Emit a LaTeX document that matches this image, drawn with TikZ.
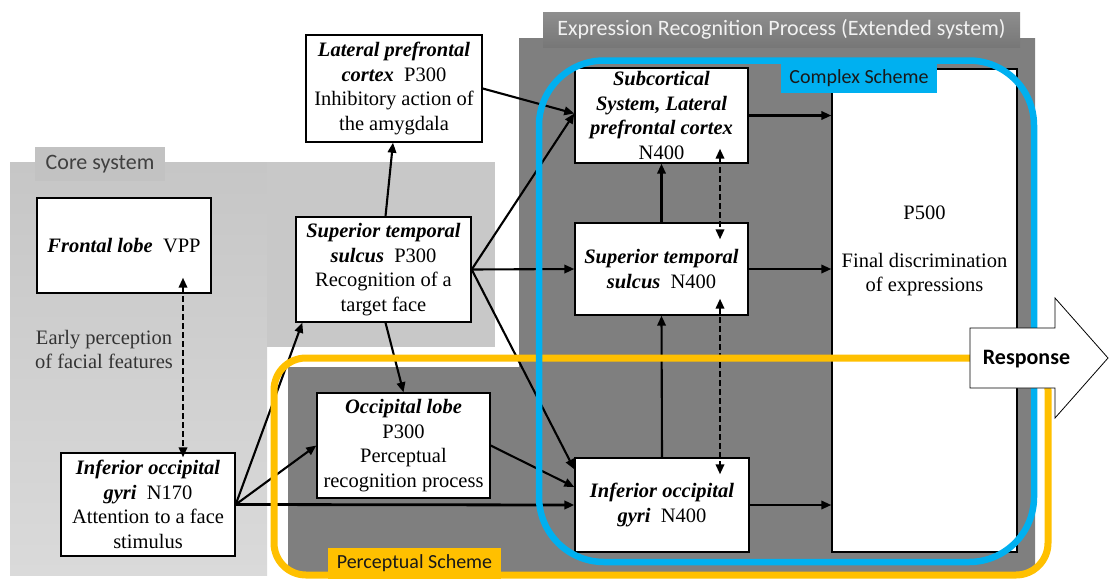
\documentclass[tikz,border=0pt]{standalone}
\usepackage{fontspec}
\setmainfont{Liberation Serif}
\newfontfamily\calib{Carlito}
\usetikzlibrary{arrows.meta,calc}
\definecolor{darkg}{HTML}{7F7F7F}
\definecolor{tabtop}{HTML}{8E8E8E}
\definecolor{tabbot}{HTML}{777777}
\definecolor{lgtop}{HTML}{C6C6C6}
\definecolor{lgbot}{HTML}{DADADA}
\definecolor{lgright}{HTML}{C8C8C8}
\definecolor{coretabc}{HTML}{C2C2C2}
\definecolor{cblue}{HTML}{00B0F0}
\definecolor{cyel}{HTML}{FFC000}
\newcommand{\bfit}[1]{\textbf{\textit{#1}}}
\begin{document}
\begin{tikzpicture}[x=1pt,y=-1pt,
  box/.style={draw=black, line width=1.4pt, fill=white, inner sep=0pt, align=center,
    font=\fontsize{20.5}{24.5}\selectfont},
  txt/.style={inner sep=0pt, align=center, font=\fontsize{20.5}{24.5}\selectfont},
  arr/.style={line width=2.1pt, -{Triangle[length=10pt,width=8.5pt]}},
  darr/.style={line width=2.1pt, dash pattern=on 6pt off 3pt,
    {Triangle[length=10pt,width=8.5pt]}-{Triangle[length=10pt,width=8.5pt]}},
  tabstyle/.style={inner sep=0pt, font=\calib\fontsize{22}{26}\selectfont},
  schemelab/.style={inner sep=0pt, font=\calib\fontsize{20}{24}\selectfont, text=black!90}
]
\useasboundingbox (0,0) rectangle (1110,581);
% ---------- background regions ----------
\shade[top color=lgtop, bottom color=lgbot] (10,162) rectangle (267,575);
\fill[lgright] (267,162) rectangle (495,347);
\fill[darkg] (519,38) -- (1035,38) -- (1035,573) -- (288,573) -- (288,367) -- (519,367) -- cycle;
\node[tabstyle, top color=tabtop, bottom color=tabbot, minimum width=477pt, minimum height=35pt,
  text=white!95!black] (exptab) at (781.5,29.5) {Expression Recognition Process (Extended system)};
\node[tabstyle, fill=coretabc, minimum width=130pt, minimum height=34pt, text=black!75]
  (coretab) at (100,164) {Core system};
% ---------- boxes ----------
\node[box, minimum width=174pt, minimum height=95pt] (front) at (124,245.5)
  {\bfit{Frontal lobe}\hspace{0.5em}VPP};
\node[box, minimum width=174pt, minimum height=103pt] (iog1) at (148,504.5)
  {\bfit{Inferior occipital}\\\bfit{gyri}\hspace{0.5em}N170\\Attention to a face\\stimulus};
\node[box, minimum width=176pt, minimum height=107pt] (lpfc) at (394,88.5)
  {\bfit{Lateral prefrontal}\\\bfit{cortex}\hspace{0.5em}P300\\Inhibitory action of\\the amygdala};
\node[box, minimum width=175pt, minimum height=105pt] (sts1) at (383.5,269.5)
  {\bfit{Superior temporal}\\\bfit{sulcus}\hspace{0.5em}P300\\Recognition of a\\target face};
\node[box, minimum width=173pt, minimum height=105pt] (occ) at (403.5,445.5)
  {\bfit{Occipital lobe}\\P300\\Perceptual\\recognition process};
\node[box, minimum width=173pt, minimum height=95pt] (sub) at (661.5,115.5)
  {\bfit{Subcortical}\\\bfit{System, Lateral}\\\bfit{prefrontal cortex}\\N400};
\node[box, minimum width=173pt, minimum height=92pt] (sts2) at (661.5,269)
  {\bfit{Superior temporal}\\\bfit{sulcus}\hspace{0.5em}N400};
\node[box, minimum width=174pt, minimum height=94pt] (iog2) at (662,505)
  {\bfit{Inferior occipital}\\\bfit{gyri}\hspace{0.5em}N400};
\node[box, minimum width=185pt, minimum height=483pt] (p500) at (924.5,310.5) {};
\node[txt] (p500t) at (924.5,251) {P500\\[23.5pt]Final discrimination\\of expressions};
\node[txt, text=black!80] (early) at (104,349.5) {Early perception\\of facial features};
% ---------- connectors ----------
\draw[darr] ($(front.south)+(59,-16)$) -- ($(iog1.north)+(35,5)$);
\draw[arr] (iog1.east) -- ($(sts1.south west)+(7,0)$);
\draw[arr] (iog1.east) -- (occ.west);
\draw[arr, line width=2.8pt] (iog1.east) -- (iog2.west);
\draw[arr] ($(sts1.north)+(2,0)$) -- ($(lpfc.south)+(-1,0)$);
\draw[arr] (sts1.east) -- ($(sub.west)+(0,-2)$);
\draw[arr] (lpfc.east) -- ($(sub.west)+(0,-2)$);
\draw[arr] (sts1.east) -- (sts2.west);
\draw[arr] (sts1.east) -- ($(iog2.north west)+(0,12)$);
\draw[arr] ($(sts1.south)+(2,0)$) -- (occ.north);
\draw[arr] (occ.east) -- ($(iog2.west)+(0,-18)$);
\draw[arr] (sub.east) -- (sub.east -| p500.west);
\draw[arr] (sts2.east) -- (sts2.east -| p500.west);
\draw[arr] (iog2.east) -- (iog2.east -| p500.west);
\draw[arr] (sts2.north) -- (sub.south);
\draw[arr] (iog2.north) -- (sts2.south);
\draw[darr] ($(sub.south)+(58.5,-15)$) -- ($(sts2.north)+(58.5,17)$);
\draw[darr] ($(sts2.south)+(58.5,-17)$) -- ($(iog2.north)+(58,17)$);
% ---------- scheme outlines ----------
\draw[cyel, line width=7pt, rounded corners=32pt] (274,358) rectangle (1048,575);
\draw[cblue, line width=6.5pt, rounded corners=65pt] (539,60.5) rectangle (1034,562);
\node[schemelab, fill=cblue, minimum width=156pt, minimum height=29pt] (complex) at (859,78.5) {Complex Scheme};
\node[schemelab, fill=cyel, minimum width=173pt, minimum height=31pt] (percep) at (414.5,563.5) {Perceptual Scheme};
% ---------- response arrow ----------
\draw[fill=white, draw=black, line width=0.8pt] (970,328) -- (1055,328) -- (1055,298) -- (1108,358)
  -- (1055,418) -- (1055,388) -- (970,388) -- cycle;
\node[inner sep=0pt, font=\calib\bfseries\fontsize{22}{26}\selectfont] (resp) at (1026.5,359) {Response};
\end{tikzpicture}
\end{document}
